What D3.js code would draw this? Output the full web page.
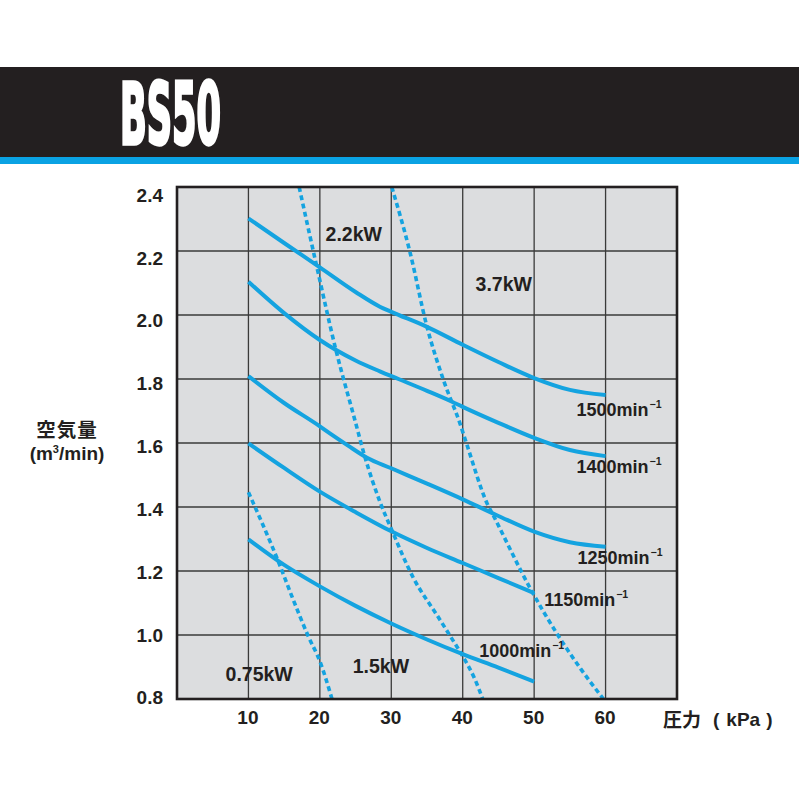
<!DOCTYPE html>
<html><head><meta charset="utf-8">
<script src="https://cdn.jsdelivr.net/npm/d3@7"></script>
<style>html,body{margin:0;padding:0;background:#fff;}svg{display:block;}</style>
</head><body>
<script>
// ---- data ----
const title = "BS50";
const xTicks = [10, 20, 30, 40, 50, 60];
const yTicks = [0.8, 1.0, 1.2, 1.4, 1.6, 1.8, 2.0, 2.2, 2.4];
const yTickLabels = ["0.8", "1.0", "1.2", "1.4", "1.6", "1.8", "2.0", "2.2", "2.4"];
const yTitle = ["空気量", "(m", "3", "/min)"];
const xTitle = ["圧力", "(", "kPa", ")"];

// speed curves (pressure kPa, air m3/min)
const speedNames = ["1500", "1400", "1250", "1150", "1000"];
const rpm1500X = [10, 15, 20, 25, 28.4, 30, 35, 40, 45, 50, 55, 60];
const rpm1500Y = [2.302, 2.225, 2.149, 2.072, 2.026, 2.01, 1.963, 1.907, 1.853, 1.803, 1.766, 1.75];
const rpm1400X = [10, 15, 20, 25, 28.4, 31, 35, 38.5, 40, 45, 50, 55, 60];
const rpm1400Y = [2.104, 2.006, 1.922, 1.858, 1.824, 1.80, 1.763, 1.729, 1.713, 1.663, 1.616, 1.578, 1.559];
const rpm1250X = [10, 15, 20, 21.4, 24, 26.6, 30, 35, 40, 45, 50, 55, 60];
const rpm1250Y = [1.809, 1.725, 1.652, 1.630, 1.591, 1.554, 1.521, 1.473, 1.424, 1.372, 1.323, 1.29, 1.276];
const rpm1150X = [10, 15, 20, 25, 30, 35, 40, 45, 50];
const rpm1150Y = [1.599, 1.522, 1.448, 1.384, 1.324, 1.272, 1.225, 1.178, 1.131];
const rpm1000X = [10, 15, 20, 25, 30, 35, 40, 45, 50];
const rpm1000Y = [1.299, 1.219, 1.152, 1.091, 1.036, 0.986, 0.940, 0.898, 0.854];

// power boundary curves (dashed)
const powerNames = ["0.75kW", "1.5kW", "2.2kW", "3.7kW"];
const kw075X = [10, 14.2, 16.1, 18.4, 20, 21.7];
const kw075Y = [1.446, 1.229, 1.12, 0.995, 0.918, 0.80];
const kw15X = [17.1, 19.6, 22.2, 24.9, 26.3, 28.4, 30.07, 33.1, 36.4, 38.5, 40.1, 41.7, 42.8];
const kw15Y = [2.4, 2.148, 1.895, 1.672, 1.557, 1.417, 1.328, 1.178, 1.062, 0.988, 0.930, 0.862, 0.80];
const kw22X = [30.07, 32.6, 35.0, 37.3, 39.6, 40.6, 43.4, 44.3, 49.4, 53.2, 56.5, 59.7];
const kw22Y = [2.4, 2.198, 1.963, 1.797, 1.662, 1.594, 1.412, 1.373, 1.148, 1.004, 0.895, 0.80];

// ---- layout ----
const W = 799, H = 799;
const M = {left: 177, right: 677, top: 187, bottom: 699};
const BLUE = "#14a3e0", INK = "#231f20";
const FONT = "'Liberation Sans', Arial, Helvetica, sans-serif";
const CJK = "'Noto Sans CJK JP', 'Noto Sans CJK SC', sans-serif";

const svg = d3.select("body").append("svg").attr("width", W).attr("height", H);

// header
svg.append("rect").attr("x", 0).attr("y", 67).attr("width", W).attr("height", 90).attr("fill", INK);
svg.append("rect").attr("x", 0).attr("y", 157).attr("width", W).attr("height", 7).attr("fill", "#0aa2e3");
svg.append("text").attr("x", 120).attr("y", 144)
  .attr("font-family", "'Liberation Sans Narrow', 'DejaVu Sans Condensed', 'Liberation Sans', sans-serif")
  .attr("font-weight", "bold").attr("font-size", 86).attr("fill", "#fff")
  .attr("stroke", "#fff").attr("stroke-width", 3.5).attr("stroke-linejoin", "miter")
  .attr("textLength", 101).attr("lengthAdjust", "spacingAndGlyphs")
  .text(title);

// scales
const x = d3.scaleLinear().domain([0, 70]).range([M.left, M.right]);
const y = d3.scaleLinear().domain([0.8, 2.4]).range([M.bottom, M.top]);
const yLab = d3.scaleLinear().domain([0.8, 2.4]).range([697.5, 195]);

// plot background
svg.append("rect").attr("x", x(0)).attr("y", y(2.4))
  .attr("width", x(70) - x(0)).attr("height", y(0.8) - y(2.4)).attr("fill", "#dcdddf");

// grid
const g = svg.append("g");
g.selectAll("line.v").data(xTicks).join("line")
  .attr("x1", d => x(d)).attr("x2", d => x(d)).attr("y1", y(2.4)).attr("y2", y(0.8))
  .attr("stroke", "#3a3a3a").attr("stroke-width", 1.3);
g.selectAll("line.h").data(yTicks.filter(d => d > 0.8 && d < 2.4)).join("line")
  .attr("x1", x(0)).attr("x2", x(70)).attr("y1", d => y(d)).attr("y2", d => y(d))
  .attr("stroke", "#3a3a3a").attr("stroke-width", 1.3);

// curves
const line = d3.line().x(d => x(d[0])).y(d => y(d[1])).curve(d3.curveMonotoneX);
const zip = (a, b) => a.map((v, i) => [v, b[i]]);
const speedCurves = [zip(rpm1500X, rpm1500Y), zip(rpm1400X, rpm1400Y), zip(rpm1250X, rpm1250Y),
                     zip(rpm1150X, rpm1150Y), zip(rpm1000X, rpm1000Y)];
const powerCurves = [zip(kw075X, kw075Y), zip(kw15X, kw15Y), zip(kw22X, kw22Y)];

svg.append("g").selectAll("path").data(powerCurves).join("path")
  .attr("d", line).attr("fill", "none").attr("stroke", BLUE)
  .attr("stroke-width", 3.6).attr("stroke-dasharray", "5,3.4");
svg.append("g").selectAll("path").data(speedCurves).join("path")
  .attr("d", line).attr("fill", "none").attr("stroke", BLUE)
  .attr("stroke-width", 4).attr("stroke-linecap", "butt");

// border
svg.append("rect").attr("x", x(0)).attr("y", y(2.4))
  .attr("width", x(70) - x(0)).attr("height", y(0.8) - y(2.4))
  .attr("fill", "none").attr("stroke", INK).attr("stroke-width", 2.6);

// axis tick labels
svg.append("g").selectAll("text").data(yTicks).join("text")
  .attr("x", 163).attr("y", d => yLab(d)).attr("dy", "0.36em")
  .attr("text-anchor", "end").attr("font-family", FONT).attr("font-weight", "bold")
  .attr("font-size", 19).attr("fill", INK)
  .text((d, i) => yTickLabels[i]);
svg.append("g").selectAll("text").data(xTicks).join("text")
  .attr("x", d => x(d) - 0.5).attr("y", 724)
  .attr("text-anchor", "middle").attr("font-family", FONT).attr("font-weight", "bold")
  .attr("font-size", 19).attr("fill", INK)
  .text(d => d);

// axis titles
svg.append("text").attr("x", 67).attr("y", 437).attr("text-anchor", "middle")
  .attr("font-family", CJK).attr("font-weight", "bold").attr("font-size", 19.5)
  .attr("letter-spacing", 1).attr("fill", INK).text(yTitle[0]);
const yt2 = svg.append("text").attr("x", 67).attr("y", 460).attr("text-anchor", "middle")
  .attr("font-family", FONT).attr("font-weight", "bold").attr("font-size", 19).attr("fill", INK);
yt2.append("tspan").text(yTitle[1]);
yt2.append("tspan").attr("font-size", 11).attr("dy", -7).text(yTitle[2]);
yt2.append("tspan").attr("dy", 7).text(yTitle[3]);
svg.append("text").attr("x", 663).attr("y", 727)
  .attr("font-family", CJK).attr("font-weight", "bold").attr("font-size", 19)
  .attr("fill", INK).text(xTitle[0]);
const xt2 = svg.append("text").attr("x", 713).attr("y", 726)
  .attr("font-family", FONT).attr("font-weight", "bold").attr("font-size", 19).attr("fill", INK);
xt2.append("tspan").text(xTitle[1]);
xt2.append("tspan").attr("dx", 7).text(xTitle[2]);
xt2.append("tspan").attr("dx", 6).text(xTitle[3]);

// speed labels: anchored to curve ends
const speedLabelOffsets = [[-29, 21], [-29, 17], [-28, 17], [10, 13], [-55, -25]];
speedCurves.forEach((c, i) => {
  const end = c[c.length - 1];
  const lx = x(end[0]) + speedLabelOffsets[i][0];
  const ly = y(end[1]) + speedLabelOffsets[i][1];
  const t = svg.append("text").attr("x", lx).attr("y", ly)
    .attr("font-family", FONT).attr("font-weight", "bold").attr("font-size", 18)
    .attr("fill", INK);
  t.append("tspan").text(speedNames[i] + "min");
  t.append("tspan").attr("font-size", 10.5).attr("dy", -8).attr("dx", 1).text("−1");
});

// power labels (data coordinates of label start)
const powerLabelAt = [[6.8, 0.855], [24.6, 0.88], [20.8, 2.23], [41.8, 2.075]];
svg.append("g").selectAll("text").data(powerNames).join("text")
  .attr("x", (d, i) => x(powerLabelAt[i][0])).attr("y", (d, i) => y(powerLabelAt[i][1]))
  .attr("font-family", FONT).attr("font-weight", "bold").attr("font-size", 19.5)
  .attr("fill", INK).text(d => d);
</script>
</body></html>
